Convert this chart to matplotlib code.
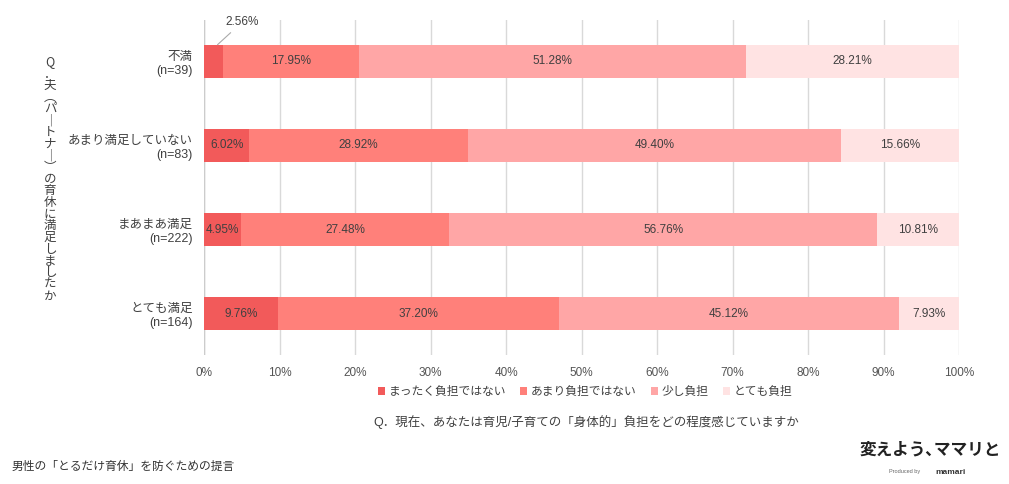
import numpy as np
import matplotlib
matplotlib.use('Agg')
import matplotlib.pyplot as plt

plt.rcParams['font.family'] = ['Liberation Sans', 'Noto Sans CJK JP', 'DejaVu Sans']

# data
categories = ['不満\n(n=39)', 'あまり満足していない\n(n=83)', 'まあまあ満足\n(n=222)', 'とても満足\n(n=164)']
series_names = ['まったく負担ではない', 'あまり負担ではない', '少し負担', 'とても負担']
none_at_all = [2.56, 6.02, 4.95, 9.76]
not_much = [17.95, 28.92, 27.48, 37.20]
a_little = [51.28, 49.40, 56.76, 45.12]
very_much = [28.21, 15.66, 10.81, 7.93]
xticks = [0, 10, 20, 30, 40, 50, 60, 70, 80, 90, 100]

colors = ['#F25A5A', '#FF807A', '#FFA6A6', '#FFE3E3']
text_col = '#404040'

fig = plt.figure(figsize=(10.09, 4.84), dpi=100)
ax = fig.add_axes([204/1009, 1-355/484, (959-204)/1009, 335/484])

values = np.array([none_at_all, not_much, a_little, very_much])
y = np.arange(len(categories))
left = np.zeros(len(categories))
for i, (name, vals) in enumerate(zip(series_names, values)):
    ax.barh(y, vals, left=left, height=0.393, color=colors[i], label=name, zorder=3)
    for j, v in enumerate(vals):
        if i == 0 and j == 0:
            # small slice: label outside with leader line
            ax.annotate(f'{v:.2f}%', xy=(left[j] + v*0.7, y[j] - 0.2),
                        xytext=(left[j] + v + 0.3, y[j] - 0.47),
                        ha='left', va='center', fontsize=8.5, color=text_col,
                        arrowprops=dict(arrowstyle='-', color='#aaaaaa', lw=0.8,
                                        shrinkA=2, shrinkB=0))
        else:
            ax.text(left[j] + v/2, y[j], f'{v:.2f}%', ha='center', va='center',
                    fontsize=8.5, color=text_col, zorder=4)
    left += vals

ax.set_xlim(0, 100)
ax.set_ylim(3.494, -0.494)
ax.set_xticks(xticks)
ax.set_xticklabels([f'{t}%' for t in xticks], fontsize=8.5, color='#555555')
ax.set_yticks(y)
ax.set_yticklabels(categories, fontsize=9, color=text_col, linespacing=1.25)
ax.tick_params(length=0, pad=8)
ax.tick_params(axis='x', pad=9)
ax.grid(axis='x', color='#d9d9d9', lw=1, zorder=0)
for s in ['top', 'right', 'bottom', 'left']:
    ax.spines[s].set_visible(False)
ax.axvline(0, color='#cccccc', lw=1, zorder=2)

# legend
leg = fig.legend(loc='center', bbox_to_anchor=(585/1009, 1-392/484), ncol=4,
                 frameon=False, fontsize=8.5, handlelength=0.6, handleheight=0.6,
                 handletextpad=0.3, columnspacing=1.2, labelcolor=text_col)

# axis titles
fig.text(586/1009, 1-422/484, 'Q．現在、あなたは育児/子育ての「身体的」負担をどの程度感じていますか',
         ha='center', va='center', fontsize=9, color=text_col)
vchars = ['Q', '．', '夫', '︵', 'パ', '｜', 'ト', 'ナ', '｜', '︶', 'の', '育', '休',
          'に', '満', '足', 'し', 'ま', 'し', 'た', 'か']
fig.text(50/1009, 1-179/484, '\n'.join(vchars), ha='center', va='center',
         fontsize=9, color=text_col, linespacing=0.87,
         family=['Noto Sans CJK JP', 'DejaVu Sans'])

# footer
fig.text(12/1009, 1-467/484, '男性の「とるだけ育休」を防ぐための提言', ha='left', va='center',
         fontsize=8.5, color='#333333')
fig.text(930/1009, 1-450/484, '変えよう､ママリと', ha='center', va='center',
         fontsize=12, fontweight='bold', color='#222222')
fig.text(905/1009, 1-472/484, 'Produced by', ha='center', va='center',
         fontsize=4, color='#666666')
fig.text(950/1009, 1-472/484, 'mamari', ha='center', va='center',
         fontsize=6, fontweight='bold', color='#333333')

fig.savefig('out.png', dpi=100)
